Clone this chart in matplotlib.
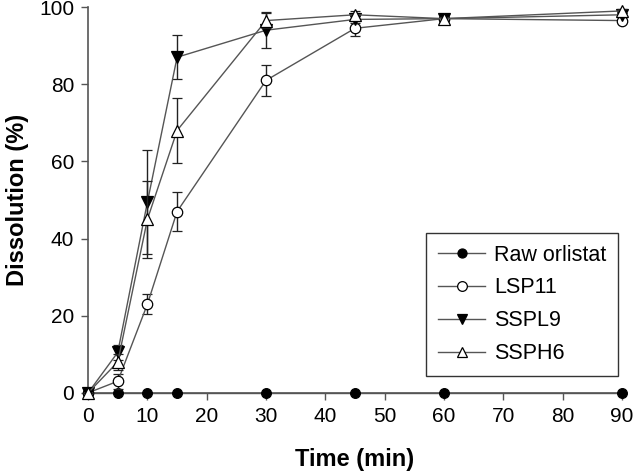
import numpy as np
import matplotlib.pyplot as plt
from matplotlib.lines import Line2D

plt.rcParams['font.family'] = ['Liberation Sans', 'DejaVu Sans']

time = [0, 5, 10, 15, 30, 45, 60, 90]

raw = [0, 0, 0, 0, 0, 0, 0, 0]
lsp11 = [0, 3, 23, 47, 81, 94.5, 97, 96.5]
lsp11_err = [0, 2, 2.5, 5, 4, 2, 0.5, 0.5]
sspl9 = [0, 10.5, 49.5, 87, 94, 96.8, 97, 98]
sspl9_err = [0, 2, 13.5, 5.7, 4.6, 1, 0.5, 0.5]
ssph6 = [0, 8, 45, 68, 96.5, 98, 97, 99]
ssph6_err = [0, 2, 10, 8.4, 2, 1, 0.5, 0.5]

labels = ['Raw orlistat', 'LSP11', 'SSPL9', 'SSPH6']
markers = ['o', 'o', 'v', '^']
faces = ['black', 'white', 'black', 'white']
sizes = [7, 7.5, 8, 8]

fig = plt.figure(figsize=(6.34, 4.71), dpi=100)
ax = fig.add_axes([0.139, 0.166, 0.842, 0.819])

line_c = '#555555'
common = dict(color=line_c, lw=1.0, ecolor='#222222', elinewidth=1.0,
              capsize=3.5, capthick=1.0, clip_on=False, markeredgecolor='black',
              markeredgewidth=0.9)

series = [(raw, None), (lsp11, lsp11_err), (sspl9, sspl9_err), (ssph6, ssph6_err)]
handles = []
for i, (vals, err) in enumerate(series):
    e = ax.errorbar(time, vals, yerr=err, marker=markers[i], ms=sizes[i], mfc=faces[i],
                    zorder=3 + i, **common)
    for c in e[1]:
        c.set_clip_on(False)
    for b in e[2]:
        b.set_clip_on(False)
    handles.append(Line2D([], [], color=line_c, lw=1.0, marker=markers[i], ms=sizes[i] - 0.5,
                          mfc=faces[i], mec='black', mew=0.9, label=labels[i]))

ax.set_xlim(0, 90)
ax.set_ylim(0, 100)
ax.set_xticks(np.arange(0, 91, 10))
ax.set_yticks(np.arange(0, 101, 20))
ax.spines['top'].set_visible(False)
ax.spines['right'].set_visible(False)
for s in ('left', 'bottom'):
    ax.spines[s].set_color('#555555')
    ax.spines[s].set_linewidth(1.2)
ax.tick_params(direction='out', length=5, width=1, color='#555555', labelsize=15, pad=5)

ax.set_xlabel('Time (min)', fontsize=17, fontweight='bold', labelpad=16)
ax.set_ylabel('Dissolution (%)', fontsize=17, fontweight='bold', labelpad=7)

leg = ax.legend(handles=handles, loc='upper left', bbox_to_anchor=(0.613, 0.443), fontsize=15.5,
                frameon=True, fancybox=False, edgecolor='black', handlelength=2.2,
                handletextpad=0.4, labelspacing=0.55, borderpad=0.55)
leg.get_frame().set_linewidth(1.0)

fig.savefig('out.png', dpi=100)
